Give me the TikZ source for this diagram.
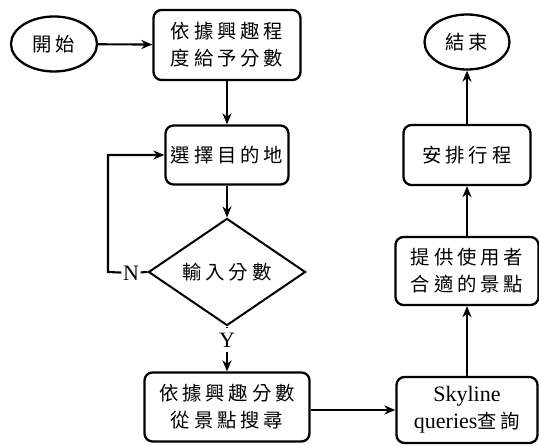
\documentclass[tikz,border=0pt]{standalone}
\usepackage{fontspec}
\setmainfont{Liberation Serif}
\newfontfamily\cjk[Scale=0.88,LetterSpace=20]{Noto Sans CJK TC}
\usetikzlibrary{shapes.geometric,arrows.meta}

\begin{document}
\begin{tikzpicture}[x=1pt,y=-1pt,
  every node/.style={font=\fontsize{22}{27}\selectfont},
  proc/.style={draw, line width=2.3pt, rounded corners=8pt, align=center, inner sep=0pt},
  term/.style={draw, ellipse, line width=2.3pt, inner sep=0pt},
  decide/.style={draw, diamond, line width=2pt, inner sep=0pt},
  lbl/.style={inner sep=1.5pt},
  flow/.style={line width=2.1pt, -{Stealth[length=11pt,width=9pt]}},
  plain/.style={line width=2.1pt}]
\useasboundingbox (0,0) rectangle (539,446);

% left column
\node[term, minimum width=86pt, minimum height=55pt] (start) at (54,44) {\cjk 開始};
\node[proc, minimum width=147pt, minimum height=70pt] (score) at (227,45)
  {\cjk 依據興趣程\\\cjk 度給予分數};
\node[proc, minimum width=123pt, minimum height=59pt] (pick) at (227,155) {\cjk 選擇目的地};
\node[decide, minimum width=157pt, minimum height=80pt] (input) at (227,272) {\cjk 輸入分數};
\node[lbl] (no) at (131,273) {N};
\node[lbl, inner ysep=5pt] (yes) at (227,340) {Y};
\coordinate (loop) at (108,272);
\node[proc, minimum width=165pt, minimum height=69pt] (search) at (227,407)
  {\cjk 依據興趣分數\\\cjk 從景點搜尋};

% right column
\node[proc, minimum width=141pt, minimum height=66pt] (sky) at (467,410)
  {Skyline\\queries{\cjk 查詢}};
\node[proc, minimum width=143pt, minimum height=68pt] (offer) at (467,271)
  {\cjk 提供使用者\\\cjk 合適的景點};
\node[proc, minimum width=127pt, minimum height=60pt] (plan) at (467,155) {\cjk 安排行程};
\node[term, minimum width=85pt, minimum height=55pt] (finish) at (467,42) {\cjk 結束};

% connectors
\draw[flow] (start) -- (score);
\draw[flow] (score) -- (pick);
\draw[flow] (pick) -- (input);
\draw[plain] (input.west) -- (no);
\draw[flow] (no) -- (loop) |- (pick.west);
\draw[plain] (input.south) -- (yes);
\draw[flow] (yes) -- (search);
\draw[flow] (search.east |- sky.west) -- (sky.west);
\draw[flow] (sky) -- (offer);
\draw[flow] (offer) -- (plan);
\draw[flow] (plan) -- (finish);
\end{tikzpicture}
\end{document}
